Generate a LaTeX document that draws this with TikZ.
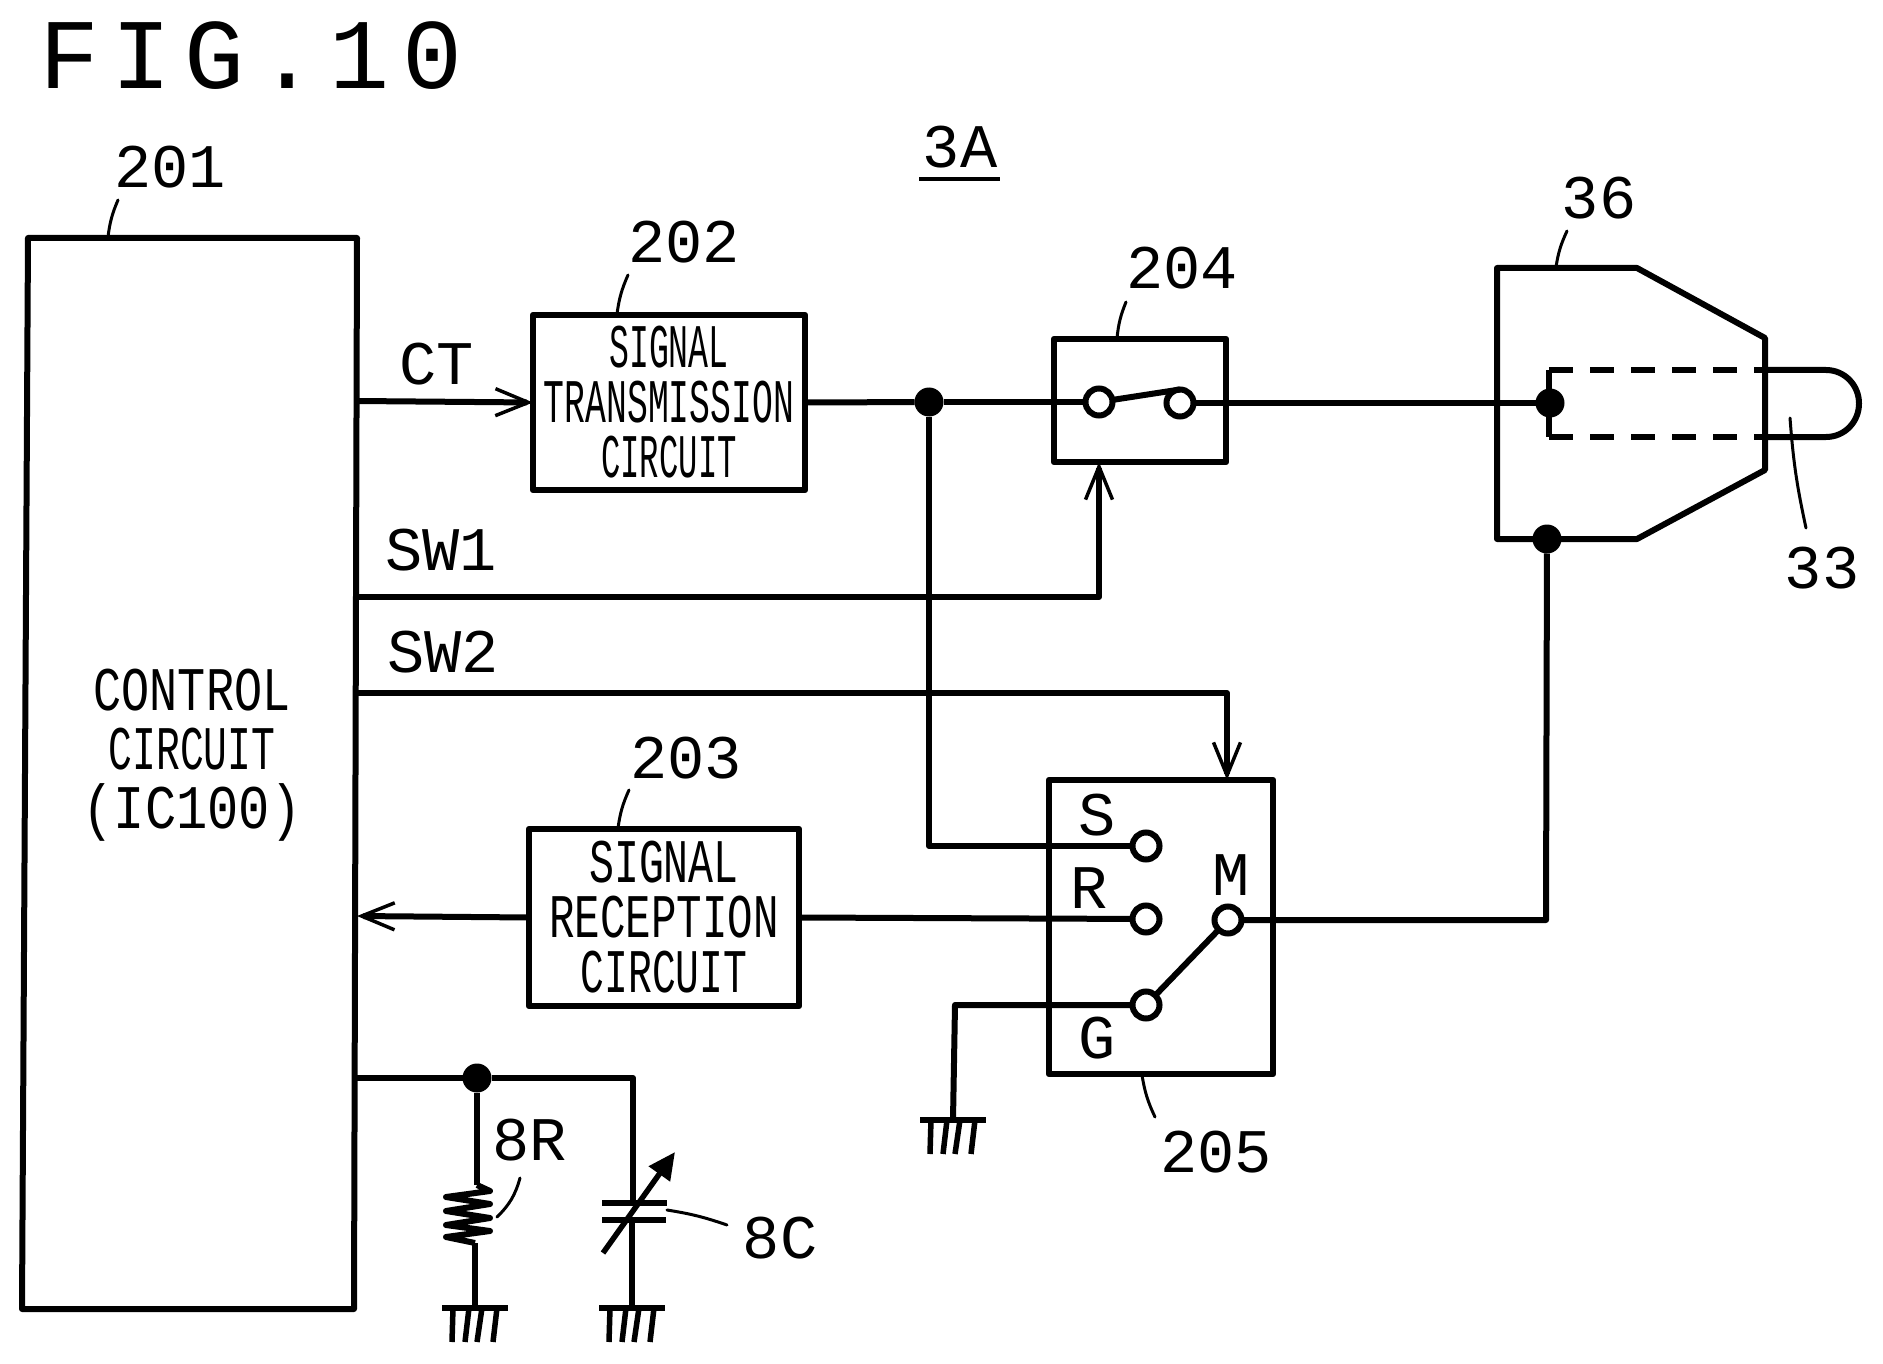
\documentclass[tikz,border=0pt]{standalone}
\usepackage{fontspec}
\usepackage{graphicx}
\setmainfont{Liberation Mono}
\newfontfamily\titlefont[LetterSpace=12.6]{Liberation Mono}
\usetikzlibrary{arrows.meta}
\newcommand{\sx}[2]{\scalebox{#1}[1]{#2}}
\tikzset{
  x=1pt,y=-1pt,
  wire/.style={line width=6pt,line join=round,draw=black},
  sig/.style={wire,-{Straight Barb[length=33pt,width=27pt,line width=3.5pt]}},
  lead/.style={line width=3pt,line cap=round},
  boxnode/.style={draw=black,line width=6.5pt,line join=round,rectangle,inner sep=0pt,outer sep=0pt,align=center,font=\fontsize{62}{55}\selectfont},
  lab/.style={font=\fontsize{62}{62}\selectfont,inner sep=0pt,outer sep=0pt},
  dot/.style={circle,fill=black,inner sep=0pt,outer sep=0pt,minimum size=29pt},
  term/.style={circle,draw=black,line width=6pt,inner sep=0pt,outer sep=0pt,minimum size=27pt},
  gnd/.pic={
    \draw[line width=5.5pt] (-33,0) -- (33,0);
    \foreach \a/\b in {-22/-23,-6/-10,7/2,22/18}{\draw[line width=5.5pt] (\a,0) -- (\b,34);}
  }
}
\begin{document}
\begin{tikzpicture}
\useasboundingbox[fill=white] (0,0) rectangle (1883,1364);
% title and reference labels
\node[font=\titlefont\fontsize{100}{100}\selectfont,inner sep=0pt] (title) at (251,56) {FIG.10};
\node[lab] (l3A) at (960,147) {3A};
\coordinate (u1) at (919,179); \coordinate (u2) at (1000,179);
\draw[line width=4pt] (u1) -- (u2);
% control circuit
\coordinate (c1) at (28,238); \coordinate (c2) at (357,238);
\coordinate (c3) at (354,1309); \coordinate (c4) at (22,1309);
\draw[wire] (c1) -- (c2) -- (c3) -- (c4) -- cycle;
\node[align=center,inner sep=0pt,font=\fontsize{62}{59}\selectfont] (ctext) at (192,755)
  {\sx{.755}{CONTROL}\\\sx{.64}{CIRCUIT}\\\sx{.84}{(IC100)}};
\node[lab] (l201) at (170,167) {201};
\coordinate (a201) at (118,200); \coordinate (b201) at (108,237);
\draw[lead] (a201) to[bend right=8] (b201);
% boxes
\node[boxnode,minimum width=272pt,minimum height=175pt] (tx) at (669,402.5)
  {\sx{.535}{SIGNAL}\\\sx{.56}{TRANSMISSION}\\\sx{.52}{CIRCUIT}};
\node[boxnode,minimum width=270pt,minimum height=177pt] (rx) at (664,917.5)
  {\sx{.67}{SIGNAL}\\\sx{.685}{RECEPTION}\\\sx{.64}{CIRCUIT}};
\node[lab] (l202) at (684,242) {202};
\coordinate (a202) at (628,275); \coordinate (b202) at (617,314);
\draw[lead] (a202) to[bend right=8] (b202);
\node[lab] (l203) at (686,758) {203};
\coordinate (a203) at (629,790); \coordinate (b203) at (618,828);
\draw[lead] (a203) to[bend right=8] (b203);
% switch 204
\node[boxnode,minimum width=172pt,minimum height=123pt] (sw204) at (1140,400.5) {};
\node[term] (t1) at (1099,402) {};
\node[term] (t2) at (1180,403) {};
\draw[wire] (t1) -- (t2.north);
\node[lab] (l204) at (1182,268) {204};
\coordinate (a204) at (1126,302); \coordinate (b204) at (1117,338);
\draw[lead] (a204) to[bend right=8] (b204);
% switch 205
\node[boxnode,minimum width=224pt,minimum height=294pt] (sw205) at (1161,927) {};
\node[term] (tS) at (1146,846) {};
\node[term] (tR) at (1146,919) {};
\node[term] (tM) at (1228,920) {};
\node[term] (tG) at (1146,1005) {};
\draw[wire] (tG) -- (tM);
\node[lab] (lS) at (1097,815) {S};
\node[lab] (lR) at (1089,888) {R};
\node[lab] (lM) at (1231,875) {M};
\node[lab] (lG) at (1097,1038) {G};
\node[lab] (l205) at (1216,1152) {205};
\coordinate (a205) at (1142,1075); \coordinate (b205) at (1155,1117);
\draw[lead] (a205) to[bend right=8] (b205);
% connector 36
\coordinate (p1) at (1497,268); \coordinate (p2) at (1637,268);
\coordinate (p3) at (1765,338); \coordinate (p4) at (1765,470);
\coordinate (p5) at (1637,539); \coordinate (p6) at (1497,539);
\draw[wire] (p1) -- (p2) -- (p3) -- (p4) -- (p5) -- (p6) -- cycle;
\node[dot] (d2) at (1550,403) {};
\node[dot] (d3) at (1547,539) {};
\node[dot] (d1) at (929,402) {};
\node[dot] (d4) at (477,1078) {};
% dashed pin
\coordinate (q1) at (1549,370); \coordinate (q2) at (1549,437);
\coordinate (q3) at (1765,370); \coordinate (q4) at (1765,437);
\coordinate (q5) at (1826,370); \coordinate (q6) at (1826,437);
\draw[wire] (q1) -- (q2);
\draw[wire,dash pattern=on 24pt off 17pt] (q1) -- (q3);
\draw[wire,dash pattern=on 24pt off 17pt] (q2) -- (q4);
\draw[wire] (q3) -- (q5) .. controls (1844.5,370) and (1859,385) .. (1859,403.5)
  .. controls (1859,422) and (1844.5,437) .. (q6) -- (q4);
\node[lab] (l36) at (1599,198) {36};
\coordinate (a36) at (1567,231); \coordinate (b36) at (1556,267);
\draw[lead] (a36) to[bend right=8] (b36);
\node[lab] (l33) at (1822,568) {33};
\coordinate (a33) at (1790,418); \coordinate (b33) at (1806,528);
\draw[lead] (a33) to[bend right=4] (b33);
% signal wires
\coordinate (ct0) at (357,401);
\node[lab] (lCT) at (437,364) {CT};
\draw[sig] (ct0) -- (tx.west);
\draw[wire] (tx.east) -- (d1);
\draw[wire] (d1) -- (t1);
\draw[wire] (t2) -- (d2);
\coordinate (s1a) at (357,597); \coordinate (s1b) at (1099,597);
\node[lab] (lSW1) at (441,550) {SW1};
\draw[sig] (s1a) -- (s1b) -- (sw204.south -| s1b);
\coordinate (s2a) at (357,693); \coordinate (s2b) at (1227,693);
\node[lab] (lSW2) at (443,652) {SW2};
\draw[sig] (s2a) -- (s2b) -- (sw205.north -| s2b);
\coordinate (sv) at (929,846);
\draw[wire] (d1) -- (sv) -- (tS);
\coordinate (rx0) at (357,916);
\draw[sig] (rx.west) -- (rx0);
\draw[wire] (rx.east) -- (tR);
\coordinate (mv) at (1546,920);
\draw[wire] (tM) -- (mv) -- (d3);
\coordinate (gv) at (955,1005); \coordinate (g3) at (953,1120);
\draw[wire] (tG) -- (gv) -- (g3);
\pic at (g3) {gnd};
% R and C
\coordinate (rc0) at (356,1078); \coordinate (rc1) at (633,1078);
\coordinate (cp1) at (633,1203); \coordinate (cp2) at (632,1220);
\coordinate (g1) at (475,1308); \coordinate (g2) at (632,1308);
\draw[wire] (rc0) -- (d4);
\draw[wire] (d4) -- (rc1) -- (cp1);
\draw[wire] (cp2) -- (g2);
\draw[line width=5.5pt] (602,1203) -- (667,1203);
\draw[line width=5.5pt] (602,1220) -- (666,1220);
\coordinate (va) at (603,1253); \coordinate (vb) at (675,1152);
\draw[line width=5.5pt,-{Triangle[length=27pt,width=25pt]}] (va) -- (vb);
\coordinate (r1) at (477,1185); \coordinate (r2) at (475,1243);
\draw[wire] (d4) -- (r1);
\draw[line width=6pt,line join=round] (r1) -- (490,1191) -- (446,1197) -- (490,1204) -- (446,1211) -- (490,1218) -- (446,1225) -- (490,1231) -- (446,1237) -- (r2);
\draw[wire] (r2) -- (g1);
\pic at (g1) {gnd};
\pic at (g2) {gnd};
\node[lab] (l8R) at (530,1140) {8R};
\node[lab] (l8C) at (780,1238) {8C};
\coordinate (a8R) at (520,1178); \coordinate (b8R) at (497,1217);
\draw[lead] (a8R) to[bend left=15] (b8R);
\coordinate (a8C) at (667,1210); \coordinate (b8C) at (727,1225);
\draw[lead] (a8C) to[bend left=5] (b8C);
\end{tikzpicture}
\end{document}
